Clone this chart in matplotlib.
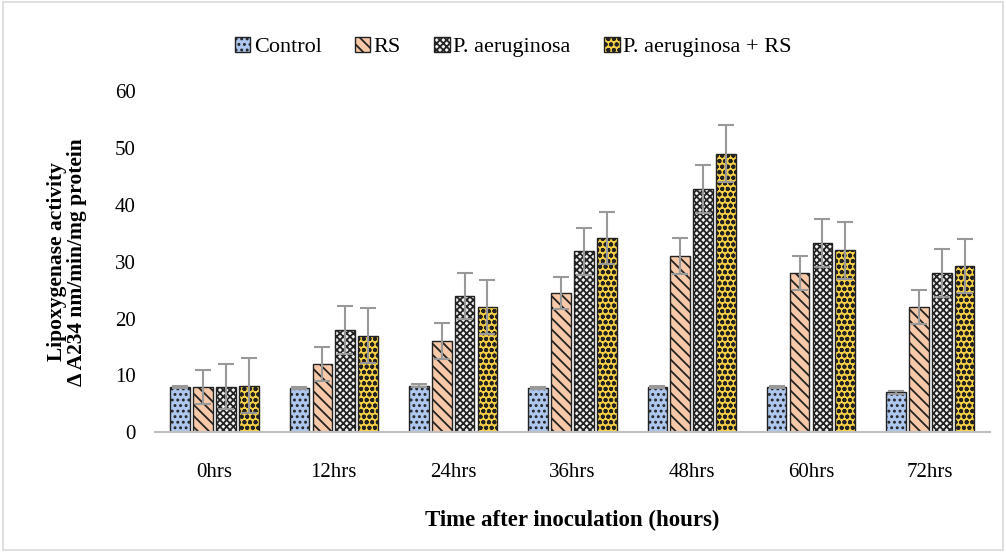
import numpy as np
import matplotlib.pyplot as plt
from matplotlib.patches import Rectangle

plt.rcParams['font.family'] = ['Liberation Serif', 'DejaVu Serif']
plt.rcParams['hatch.linewidth'] = 1.3

times = ['0hrs', '12hrs', '24hrs', '36hrs', '48hrs', '60hrs', '72hrs']
series = ['Control', 'RS', 'P. aeruginosa', 'P. aeruginosa + RS']

control = [8.0, 7.8, 8.2, 7.8, 8.0, 8.0, 7.0]
rs = [8.0, 12.0, 16.0, 24.5, 31.0, 28.0, 22.0]
pa = [8.0, 18.0, 24.0, 31.8, 42.8, 33.3, 28.0]
pa_rs = [8.2, 17.0, 22.0, 34.2, 49.0, 32.0, 29.2]

control_err = [0.2, 0.2, 0.2, 0.2, 0.2, 0.2, 0.2]
rs_err = [3.0, 3.0, 3.2, 2.8, 3.2, 3.0, 3.0]
pa_err = [4.0, 4.2, 4.0, 4.2, 4.2, 4.2, 4.3]
pa_rs_err = [4.8, 4.8, 4.8, 4.6, 5.0, 5.0, 4.8]

values = [control, rs, pa, pa_rs]
errors = [control_err, rs_err, pa_err, pa_rs_err]
faces = ['#aec7ee', '#f8c9a8', '#f2f2f2', '#f5cf45']
hatch_cols = ['#1f3864', '#5a2a0e', '#404040', '#6b5200']
hatches = ['...', '\\\\\\', 'xxxxx', 'ooo']

fig = plt.figure(figsize=(10.06, 5.52), dpi=100)
ax = fig.add_axes([0.154, 0.217, 0.83, 0.618])

x = np.arange(len(times))
step = 0.192
width = 0.165
for i in range(4):
    pos = x + (i - 1.5) * step
    plt.rcParams['hatch.color'] = hatch_cols[i]
    ax.bar(pos, values[i], width, color=faces[i], edgecolor='#222222',
           linewidth=1.0, hatch=hatches[i], label=series[i], zorder=2)
    ax.errorbar(pos, values[i], yerr=errors[i], fmt='none', ecolor='#999999',
                elinewidth=1.5, capsize=6, capthick=1.5, zorder=3)

ax.set_xlim(-0.5, 6.5)
ax.set_ylim(0, 60)
ax.set_yticks(range(0, 61, 10))
ax.set_xticks(x)
ax.set_xticklabels(times)
ax.tick_params(axis='both', length=0, labelsize=15)
ax.tick_params(axis='y', pad=14)
ax.tick_params(axis='x', pad=22)
for s in ['top', 'right', 'left']:
    ax.spines[s].set_visible(False)
ax.spines['bottom'].set_color('#bfbfbf')
ax.spines['bottom'].set_linewidth(1.5)

ax.set_xlabel('Time after inoculation (hours)', fontsize=16.5, fontweight='bold', labelpad=20)
ax.set_ylabel('Lipoxygenase activity\n\u0394 A234 nm/min/mg protein', fontsize=15.5,
              fontweight='bold', labelpad=20, linespacing=1.0)

fig.legend(loc='upper center', bbox_to_anchor=(0.51, 0.97), ncol=4, frameon=False,
           fontsize=16, handlelength=0.7, handleheight=0.7, handletextpad=0.15,
           columnspacing=1.5)

fig.patches.append(Rectangle((0.003, 0.003), 0.994, 0.994, transform=fig.transFigure,
                             fill=False, edgecolor='#d9d9d9', linewidth=1.2))

fig.savefig('out.png', dpi=100)
